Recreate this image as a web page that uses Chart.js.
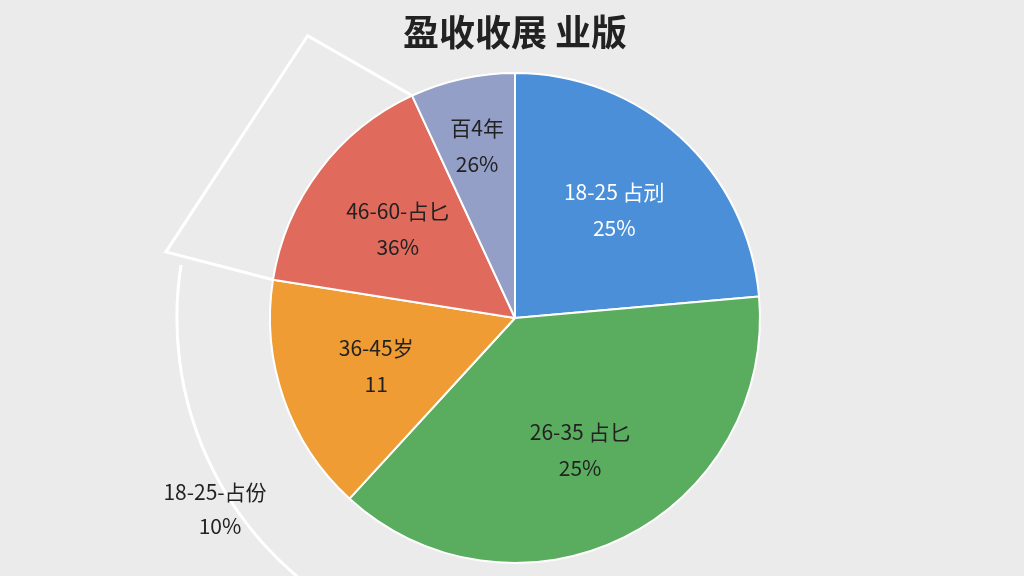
<!DOCTYPE html>
<html><head><meta charset="utf-8">
<script src="https://cdn.jsdelivr.net/npm/chart.js@4/dist/chart.umd.min.js"></script>
<style>html,body{margin:0;background:#ebebeb}#w{width:1024px;height:576px}</style>
</head><body><div id="w"><canvas id="c"></canvas></div>
<script>
const titleText = "盈收收展 业版";
const categories = ["18-25 占刓", "26-35 占匕", "36-45岁", "46-60-占匕", "百4年"];
const sliceValues = [23.6, 38.2, 15.7, 15.6, 6.9];
const sliceLabels = ["25%", "25%", "11", "36%", "26%"];
const sliceColors = ["#4a8fd8", "#5aad5f", "#ee9c33", "#e06a5c", "#939fc6"];
const labelColors = ["#ffffff", "#222222", "#222222", "#222222", "#222222"];
const outsideLabel = ["18-25-占份", "10%"];
const F = "'Noto Sans CJK SC','Noto Sans',sans-serif";

const deco = {
  id: 'deco',
  afterDatasetsDraw(chart) {
    const ctx = chart.ctx;
    const meta = chart.getDatasetMeta(0);
    const a0 = meta.data[0];
    const cx = a0.x, cy = a0.y, r = a0.outerRadius;
    ctx.save();
    ctx.textAlign = 'center'; ctx.textBaseline = 'middle';
    ctx.font = "21px " + F;
    meta.data.forEach((arc, i) => {
      const mid = (arc.startAngle + arc.endAngle) / 2;
      const rr = i === 4 ? r * 0.72 : r * 0.6;
      const x = cx + Math.cos(mid) * rr, y = cy + Math.sin(mid) * rr;
      ctx.fillStyle = labelColors[i];
      ctx.fillText(categories[i], x, y - 18);
      ctx.fillText(sliceLabels[i], x, y + 18);
    });
    const red = meta.data[3];
    ctx.strokeStyle = "#ffffff"; ctx.lineWidth = 3;
    const p = (ang, rad) => [cx + Math.cos(ang) * rad, cy + Math.sin(ang) * rad];
    const i1 = p(red.startAngle, r), i2 = p(red.endAngle, r);
    const o1 = p(red.startAngle + 0.03, r * 1.45), o2 = p(red.endAngle - 0.2, r * 1.43);
    ctx.beginPath();
    ctx.moveTo(i1[0], i1[1]); ctx.lineTo(o1[0], o1[1]); ctx.lineTo(o2[0], o2[1]); ctx.lineTo(i2[0], i2[1]);
    ctx.stroke();
    ctx.beginPath();
    ctx.arc(cx, cy, r * 1.38, 189 * Math.PI / 180, 122 * Math.PI / 180, true);
    ctx.stroke();
    ctx.fillStyle = "#222"; ctx.font = "21px " + F;
    ctx.fillText(outsideLabel[0], 215, 492);
    ctx.fillText(outsideLabel[1], 220, 526);
    ctx.font = "bold 36px " + F; ctx.fillStyle = "#222";
    ctx.fillText(titleText, 515, 32);
    ctx.restore();
  }
};

new Chart(document.getElementById('c'), {
  type: 'pie',
  data: { labels: categories, datasets: [{ data: sliceValues, backgroundColor: sliceColors, borderColor: "#ffffff", borderWidth: 2 }] },
  options: {
    responsive: true, maintainAspectRatio: false, animation: false,
    radius: 245,
    layout: { padding: { top: 73, bottom: 13, left: 6, right: 0 } },
    plugins: { legend: { display: false }, tooltip: { enabled: false }, title: { display: false } }
  },
  plugins: [deco]
});
</script></body></html>
